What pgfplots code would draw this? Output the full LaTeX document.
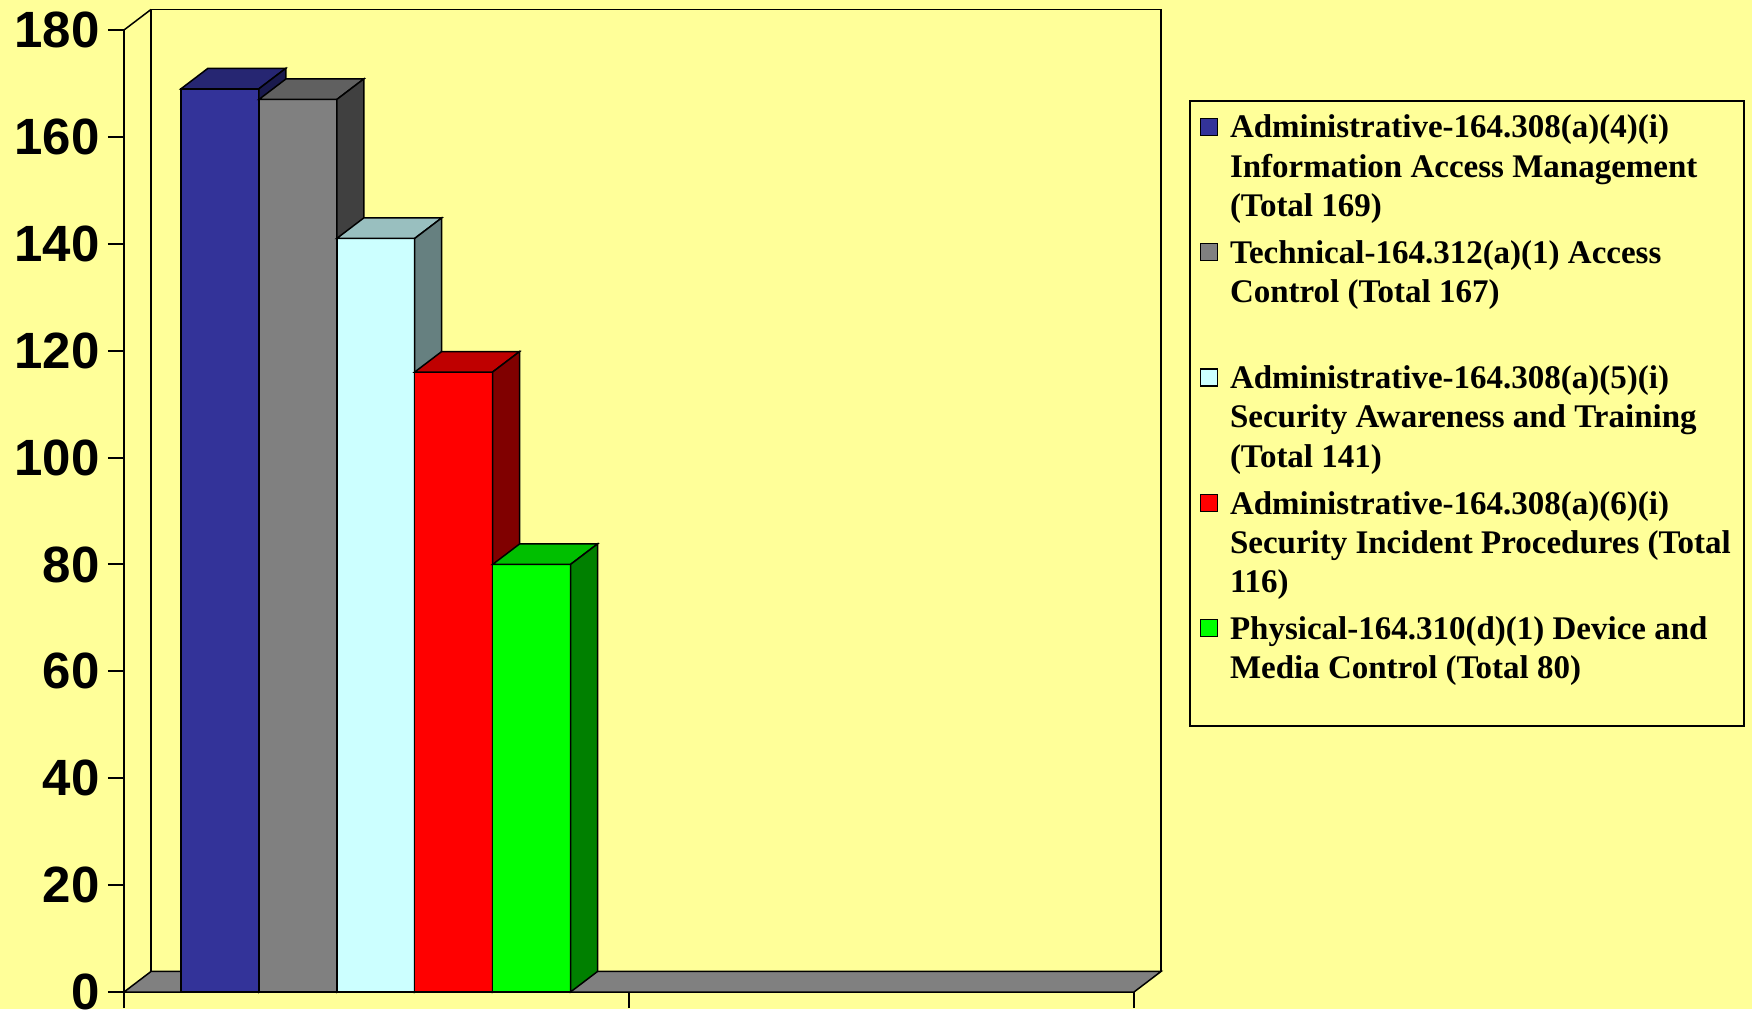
\documentclass[border=0pt]{standalone}
\usepackage{pgfplots}
\pgfplotsset{compat=1.18}
\usepackage{fontspec}
\setmainfont{Liberation Serif}
\newfontfamily\arialfont{Liberation Sans}

\definecolor{bg}{HTML}{FFFF99}
\definecolor{floorgray}{HTML}{808080}
\definecolor{c1}{HTML}{333399}\definecolor{c1t}{HTML}{262672}\definecolor{c1s}{HTML}{1A1A4D}
\definecolor{c2}{HTML}{808080}\definecolor{c2t}{HTML}{606060}\definecolor{c2s}{HTML}{404040}
\definecolor{c3}{HTML}{CCFFFF}\definecolor{c3t}{HTML}{99BFBF}\definecolor{c3s}{HTML}{668080}
\definecolor{c4}{HTML}{FF0000}\definecolor{c4t}{HTML}{BF0000}\definecolor{c4s}{HTML}{800000}
\definecolor{c5}{HTML}{00FF00}\definecolor{c5t}{HTML}{00BF00}\definecolor{c5s}{HTML}{008000}

\pgfplotsset{
  sq/.style={legend image code/.code={\draw[##1,draw=black,line width=0.6pt] (0pt,1.3pt) rectangle (8.5pt,9.8pt);}},
  face/.style={fill=#1, draw=black, line width=0.75pt, forget plot},
  front/.style={ybar, bar width=77.9, bar shift=0pt, fill=#1, draw=black, line width=0.75pt, sq},
}
% one legend cell: fixed height slot, first line on the row baseline
\newcommand{\entry}[2]{\parbox[t][#1][t]{252pt}{\raggedright\strut #2}}

\begin{document}
\begin{tikzpicture}[x=0.5pt,y=0.5pt]
\fill[bg] (0,0) rectangle (1752,1009);
\useasboundingbox (0,0) rectangle (1752,1009);
\begin{axis}[
  at={(62pt,8.5pt)}, anchor=south west,
  scale only axis, width=505pt, height=481pt,
  xmin=0, xmax=1010, ymin=0, ymax=180,
  clip=false,
  axis x line=bottom, axis y line=left,
  axis line style={-, line width=1pt},
  xtick={0,505,1010}, xticklabels={},
  ytick={0,20,...,180},
  tick align=outside, major tick length=8pt,
  tick style={black, line width=1pt},
  yticklabel style={font=\arialfont\bfseries\fontsize{25.5}{30}\selectfont, inner sep=0pt, xshift=-4pt},
  /pgf/number format/assume math mode=true,
  legend style={at={(1.0545,0.9272)}, anchor=north west, draw=black, line width=0.75pt, fill=bg,
    inner xsep=5pt, inner ysep=4.8pt, column sep=6pt, row sep=0pt,
    nodes={inner sep=0pt, text depth=, text height=},
    cells={anchor=base west},
    font=\bfseries\fontsize{16.5}{19.6}\selectfont},
]
% back wall, left edge, floor
\addplot[face=bg] coordinates {(27,3.84) (27,183.84) (1037,183.84) (1037,3.84)} -- cycle;
\addplot[black, line width=0.75pt, forget plot] coordinates {(0,180) (27,183.84)};
\addplot[face=floorgray] coordinates {(0,0) (1010,0) (1037,3.84) (27,3.84)} -- cycle;

% 169
\addplot[front=c1] coordinates {(95.95,169)};
\addlegendentry{\entry{62.7pt}{Administrative-164.308(a)(4)(i)\\Information Access Management\\(Total 169)}}
\addplot[face=c1t] coordinates {(57,169) (134.9,169) (161.9,172.84) (84,172.84)} -- cycle;
\addplot[face=c1s] coordinates {(134.9,0) (161.9,3.84) (161.9,172.84) (134.9,169)} -- cycle;
% 167
\addplot[front=c2] coordinates {(173.85,167)};
\addlegendentry{\entry{62.7pt}{Technical-164.312(a)(1) Access\\Control (Total 167)}}
\addplot[face=c2t] coordinates {(134.9,167) (212.8,167) (239.8,170.84) (161.9,170.84)} -- cycle;
\addplot[face=c2s] coordinates {(212.8,0) (239.8,3.84) (239.8,170.84) (212.8,167)} -- cycle;
% 141
\addplot[front=c3] coordinates {(251.75,141)};
\addlegendentry{\entry{62.7pt}{Administrative-164.308(a)(5)(i)\\Security Awareness and Training\\(Total 141)}}
\addplot[face=c3t] coordinates {(212.8,141) (290.7,141) (317.7,144.84) (239.8,144.84)} -- cycle;
\addplot[face=c3s] coordinates {(290.7,0) (317.7,3.84) (317.7,144.84) (290.7,141)} -- cycle;
% 116
\addplot[front=c4] coordinates {(329.65,116)};
\addlegendentry{\entry{62.7pt}{Administrative-164.308(a)(6)(i)\\Security Incident Procedures (Total\\116)}}
\addplot[face=c4t] coordinates {(290.7,116) (368.6,116) (395.6,119.84) (317.7,119.84)} -- cycle;
\addplot[face=c4s] coordinates {(368.6,0) (395.6,3.84) (395.6,119.84) (368.6,116)} -- cycle;
% 80
\addplot[front=c5] coordinates {(407.55,80)};
\addlegendentry{\entry{52.1pt}{Physical-164.310(d)(1) Device and\\Media Control (Total 80)}}
\addplot[face=c5t] coordinates {(368.6,80) (446.5,80) (473.5,83.84) (395.6,83.84)} -- cycle;
\addplot[face=c5s] coordinates {(446.5,0) (473.5,3.84) (473.5,83.84) (446.5,80)} -- cycle;
\end{axis}
\end{tikzpicture}
\end{document}
